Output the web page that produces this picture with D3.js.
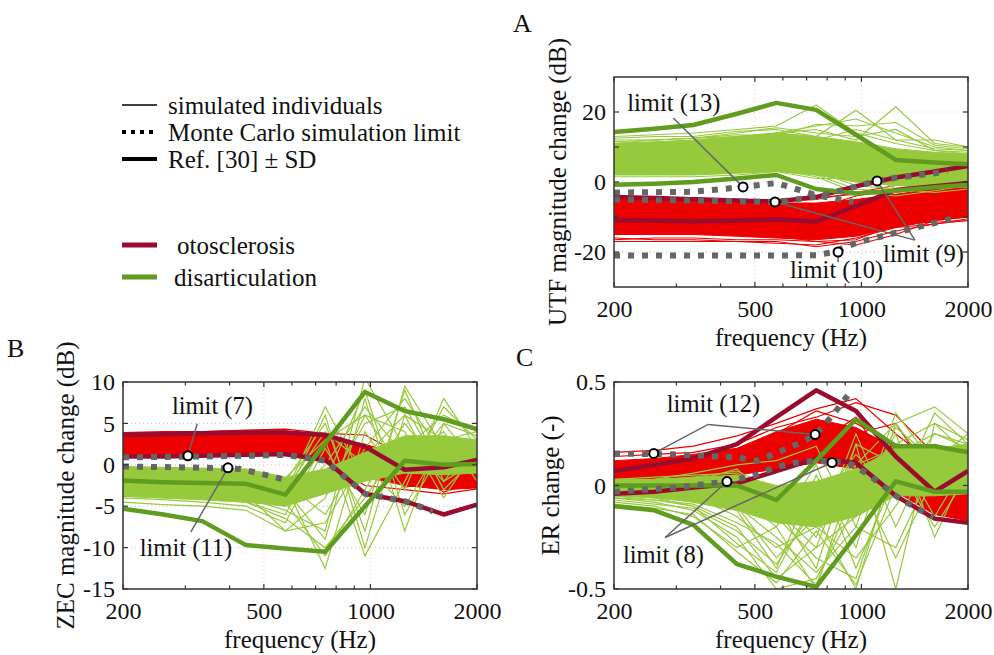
<!DOCTYPE html>
<html>
<head>
<meta charset="utf-8">
<script src="https://cdn.jsdelivr.net/npm/d3@7/dist/d3.min.js"></script>
<style>
  body { margin: 0; background: #fff; }
  svg text { font-family: "Liberation Serif", "Times New Roman", serif; fill: #111; }
</style>
</head>
<body>
<svg id="fig" width="994" height="655"></svg>
<script>
// frequency grid of the simulated curves and reference curves (Hz)
const freqs = [200, 260, 335, 445, 575, 745, 965, 1250, 1610, 2000];
const xTickVals = [200, 500, 1000, 2000];
const xMinorVals = [300, 400, 600, 700, 800, 900];

// ---------- A: UTF magnitude change (dB) ----------
const utfOtoBandHi = [-5, -5, -5.5, -5.5, -6, -6, -5, -3.5, -2, -1.5];
const utfOtoBandLo = [-15, -15, -15, -15.5, -16, -16.5, -15.5, -13, -11, -10];
const utfOtoSims = [
    [-16, -16.5, -16.5, -17, -17, -18.5, -17, -14, -12, -11],
    [-17, -17, -17, -17, -17.5, -18, -16, -13, -12, -10.5],
    [-16.5, -16, -16, -16.5, -16.5, -17, -18, -15, -11, -10],
    [-4.5, -4.5, -5, -5, -5.5, -5, -3, -1, 0, 0],
    [-4, -4.5, -4.5, -5, -5, -4.5, -3.5, -2, -1, -0.5],
    [-6, -6, -6.5, -7, -7, -7.5, -4, -2, -1, -1],
    [-14, -14, -14.5, -15, -15.5, -17, -16.5, -12, -11.5, -11],
    [-12, -12, -12, -13, -13, -14, -12, -9, -8, -7]
];
const utfDisBandHi = [11, 11.5, 12, 13, 14, 13, 11.5, 9.5, 8.5, 8];
const utfDisBandLo = [2, 2, 2, 2.5, 3, 2, 0, -1, -1.5, -1];
const utfDisSims = [
    [13, 13.5, 14, 15, 16, 22, 14, 11, 9, 8],
    [12.5, 13, 13, 14.5, 15, 13, 20.5, 12, 9.5, 9],
    [11, 12, 12.5, 13, 14, 15, 12, 21.5, 11, 10],
    [10, 10.5, 11, 12, 14, 16, 18, 14, 10, 9],
    [12, 12, 12.5, 13.5, 13, 16.5, 16, 17, 10.5, 9.5],
    [9, 9.5, 10, 11, 12, 12, 15, 12, 12, 10],
    [11.5, 12, 12.5, 14, 15.5, 14, 13, 15, 9, 8.5],
    [3, 3, 3, 3.5, 4, 2, -2, -3, -1, 0],
    [2.5, 2.5, 2.5, 3, 3.5, 1.5, -3, -4, -2.5, -1],
    [4, 4, 4.5, 5, 5, 3, -1, -2, -3, -2],
    [1.5, 1.5, 1.5, 2, 3, 1, 1, -3, -1.5, -1.5],
    [6, 6, 6.5, 7, 8, 9, 4, -2, 0, 1],
    [8, 8, 8.5, 9, 10, 8, 6, 4, 3, 3]
];
const utfRefOtoHi = [-4.3, -4.6, -4.9, -5.3, -5.6, -4.3, -1.2, 1.3, 3.0, 4.6];
const utfRefOtoLo = [-10.9, -11, -11.2, -11, -10.7, -11.3, -6.8, -2.3, -1.2, -0.3];
const utfRefDisHi = [14.3, 15.2, 16.3, 19.5, 22.6, 20.6, 13.5, 6.3, 5.6, 5.1];
const utfRefDisLo = [-0.8, -0.5, 0, 1, 2, -2, -3.3, -2.5, -1.5, -0.8];
const utfLim13F = [200, 335, 445, 575, 670, 745, 950];
const utfLim13V = [-3.0, -2.8, -1.6, -0.3, -2.3, -3.8, -5.7];
const utfLim9F = [200, 335, 445, 575, 745, 965, 1100, 1250, 1610, 1750];
const utfLim9V = [-5.0, -5.3, -5.5, -5.7, -4.2, -1.3, 0.3, 1.2, 2.5, 3.0];
const utfLim10F = [200, 335, 575, 745, 838, 900, 1000, 1250, 1430, 1800];
const utfLim10V = [-21, -21, -21, -20.9, -20, -18.5, -17, -14.5, -13, -10.5];

// ---------- B: ZEC magnitude change (dB) ----------
const zecOtoBandHi = [3.9, 3.9, 4.0, 4.1, 4.1, 3.4, 2.5, 1.0, 0.7, 0.8];
const zecOtoBandLo = [0.9, 0.9, 1.0, 1.1, 1.1, 0.3, -1.5, -2.5, -3.0, -2.8];
const zecOtoSims = [
    [3.9, 4, 4, 4.2, 4.3, 3.8, 3.6, 1, 0.5, 1],
    [1.2, 1.2, 1.3, 1.4, 1.4, 0.4, -2.5, -3, -3.5, -2.9],
    [2, 2.1, 2.2, 2.3, 2.4, 1.8, 0.5, -2, -1, -1.5],
    [3, 3, 3.1, 3.2, 3.3, 2.5, -1, 0, -3.3, -2],
    [2.5, 2.5, 2.6, 2.8, 2.8, 3.2, 1, -2.7, -2, -2.5]
];
const zecDisBandHi = [-0.2, -0.3, -0.4, -0.5, -1.5, -0.5, 1.5, 3.5, 3.5, 3];
const zecDisBandLo = [-3.8, -4, -4.2, -4.5, -5, -3.5, -2, -1, -1.2, -1];
const zecDisSims = [
    [-0.5, -0.6, -0.8, -1, -2, 5, -8, 9.5, 2, 3],
    [-1, -1.2, -1.3, -1.5, -2.5, -12.5, 4, -3, 8, 2],
    [-2, -2.2, -2.5, -3, -4, 6, -10, 6, -3, 1],
    [-3, -3.3, -3.5, -4, -5.5, -8, 10.5, 2, 6, 4],
    [-4, -4.2, -4.5, -5, -7, 2, -6, 9, -2, 3],
    [-1.5, -1.6, -1.8, -2, -3, -9, 8, -8, 5, 0],
    [-2.5, -2.8, -3, -3.5, -8, -4, 6, 4, -4, 2],
    [-3.5, -3.8, -4, -4.5, -6, 3, -11, -2, 7, 3],
    [-1.2, -1.3, -1.5, -1.8, -2.2, -6, 2, 8, 1, 1.5],
    [-0.8, -1, -1.2, -1.5, -3, 4, 0, -5, 3, -1],
    [-2.2, -2.5, -2.7, -3.2, -4.5, -11, -3, 5, -1, 2.5],
    [-3.2, -3.4, -3.6, -4, -5, 0, 7, 1, 4, -2],
    [-0.3, -0.5, -0.6, -0.8, -1.6, 3, 6, -1, 5, 3.5],
    [-3.8, -4, -4.2, -4.5, -6.5, -10, -4, 3, 1, 2],
    [-2.8, -3, -3.2, -3.8, -5, -2, 9, -6, 2, 1],
    [-1.8, -2, -2.2, -2.5, -3.5, 7, -2, 3, -2, 0.5],
    [-4.5, -4.8, -5, -5.5, -8, -7, 1, 6, 3, 4],
    [-0.6, -0.7, -0.9, -1.2, -2.8, -3, 5, 7, -1, 2.5]
];
const zecRefOtoHi = [3.6, 3.7, 3.8, 3.9, 3.9, 3.6, 2.2, -0.6, -0.3, 0.6];
const zecRefOtoLo = [1.0, 1.0, 1.1, 1.2, 1.3, 0.6, -3.5, -4.4, -6.0, -4.8];
const zecRefDisHi = [-1.9, -2.1, -2.2, -2.3, -3.6, 2.6, 8.8, 6.5, 5.5, 4.3];
const zecRefDisLo = [-5.3, -6.0, -6.8, -9.7, -10.1, -10.5, -5, 0.5, 0, 0.1];
const zecLim7F = [200, 335, 445, 575, 745, 965, 1250, 1500];
const zecLim7V = [0.9, 1.0, 1.1, 1.2, 0.5, -3.5, -4.4, -5.6];
const zecLim11F = [200, 335, 430, 575];
const zecLim11V = [-0.2, -0.35, -0.5, -1.8];

// ---------- C: ER change (-) ----------
const erOtoBandHi = [0.12, 0.13, 0.15, 0.18, 0.26, 0.32, 0.28, 0.18, 0.05, 0.08];
const erOtoBandLo = [0.03, 0.03, 0.04, 0.05, 0.08, 0.11, 0.08, -0.03, -0.14, -0.17];
const erOtoSims = [
    [0.16, 0.17, 0.19, 0.24, 0.3, 0.37, 0.42, 0.25, 0.1, 0.12],
    [0.14, 0.15, 0.16, 0.2, 0.28, 0.33, 0.4, 0.34, 0.15, 0.2],
    [0.1, 0.11, 0.13, 0.17, 0.25, 0.36, 0.3, 0.2, 0.05, 0.1],
    [0.05, 0.06, 0.08, 0.12, 0.2, 0.3, 0.25, 0.3, 0.02, 0.05],
    [0.04, 0.05, 0.06, 0.13, 0.12, 0.26, 0.2, 0.1, -0.12, -0.05],
    [0.08, 0.08, 0.1, 0.14, 0.22, 0.2, 0.33, 0.05, -0.08, -0.1]
];
const erDisBandHi = [0.03, 0.03, 0.04, 0.05, 0.0, 0.02, 0.08, 0.18, 0.18, 0.2];
const erDisBandLo = [-0.05, -0.06, -0.08, -0.12, -0.18, -0.2, -0.15, -0.05, -0.05, -0.04];
const erDisSims = [
    [0.02, 0.03, 0.06, 0.1, 0.12, 0.19, -0.2, 0.35, 0.1, 0.2],
    [0.0, -0.01, -0.02, -0.05, -0.2, -0.5, 0.1, 0.3, 0.38, 0.25],
    [-0.02, -0.04, -0.06, -0.1, -0.35, -0.15, -0.5, 0.15, 0.25, 0.2],
    [-0.04, -0.06, -0.1, -0.2, -0.45, -0.3, 0.2, -0.5, 0.3, 0.15],
    [-0.06, -0.08, -0.12, -0.25, -0.5, -0.45, -0.1, 0.25, -0.25, 0.1],
    [-0.08, -0.1, -0.15, -0.3, -0.2, 0.1, -0.4, 0.05, 0.15, 0.0],
    [0.01, 0.0, 0.02, 0.08, -0.1, -0.4, 0.2, 0.1, -0.2, 0.05],
    [-0.03, -0.05, -0.08, -0.12, -0.4, 0.05, -0.3, 0.3, 0.05, 0.18],
    [-0.05, -0.07, -0.09, -0.18, -0.28, -0.48, 0.0, 0.2, 0.3, 0.22],
    [0.03, 0.04, 0.05, 0.06, -0.05, -0.25, 0.25, -0.2, 0.2, 0.1],
    [-0.01, -0.02, -0.04, -0.08, -0.15, -0.35, -0.45, 0.12, 0.0, 0.12],
    [-0.07, -0.09, -0.11, -0.22, -0.38, -0.1, 0.15, -0.05, 0.35, 0.2],
    [-0.02, -0.03, -0.05, -0.15, -0.3, -0.2, -0.35, -0.1, 0.2, 0.15],
    [0.0, 0.01, 0.03, 0.05, -0.12, -0.3, -0.15, 0.28, 0.12, 0.25],
    [-0.04, -0.05, -0.07, -0.1, -0.25, -0.42, -0.2, -0.3, 0.1, 0.05],
    [-0.06, -0.07, -0.1, -0.28, -0.42, -0.05, 0.1, 0.18, -0.15, 0.12],
    [-0.09, -0.11, -0.14, -0.32, -0.47, -0.22, -0.48, 0.0, 0.25, 0.18],
    [0.02, 0.02, 0.04, 0.07, -0.02, -0.18, 0.05, -0.35, 0.05, 0.1]
];
const erRefOtoHi = [0.07, 0.10, 0.13, 0.20, 0.33, 0.46, 0.36, 0.14, -0.03, 0.07];
const erRefOtoLo = [-0.04, -0.03, -0.01, 0.01, 0.07, 0.13, 0.11, -0.05, -0.16, -0.18];
const erRefDisHi = [0.0, 0.0, 0.0, 0.0, -0.07, 0.12, 0.32, 0.19, 0.19, 0.16];
const erRefDisLo = [-0.1, -0.12, -0.19, -0.38, -0.44, -0.49, -0.24, 0.02, -0.03, -0.03];
const erLim12F = [200, 300, 445, 510, 600, 680, 745, 830, 930];
const erLim12V = [0.155, 0.15, 0.135, 0.12, 0.17, 0.21, 0.25, 0.34, 0.45];
const erLim8F = [200, 300, 420, 500, 575, 650, 745, 830, 920, 1030, 1150, 1250, 1430, 1600];
const erLim8V = [-0.03, -0.01, 0.02, 0.05, 0.09, 0.11, 0.12, 0.115, 0.11, 0.06, 0.0, -0.05, -0.11, -0.15];

// annotations: label text, label anchor, pointer lines, circles (freq, value)
const utfNotes = [
    { text: 'limit (13)', at: [218, 20.3], lines: [[[294, 18.3], [463, -1.4]]], dots: [[463, -1.4]] },
    { text: 'limit (9)', at: [1150, -22.9], lines: [[[1416, -16.6], [570, -5.7]], [[1416, -16.6], [1107, 0.3]]], dots: [[570, -5.7], [1107, 0.3]] },
    { text: 'limit (10)', at: [628, -27.4], lines: [[[859, -22.9], [859, -20]]], dots: [[859, -20]] }
];
const zecNotes = [
    { text: 'limit (7)', at: [275, 6.16], lines: [[[324, 4.95], [305, 1.09]]], dots: [[305, 1.09]] },
    { text: 'limit (11)', at: [223, -11.0], lines: [[[311, -8.09], [396, -0.36]]], dots: [[396, -0.36]] }
];
const erNotes = [
    { text: 'limit (12)', at: [282, 0.353], lines: [[[259, 0.155], [369, 0.295], [740, 0.246]]], dots: [[259, 0.155], [740, 0.246]] },
    { text: 'limit (8)', at: [212, -0.372], lines: [[[279, -0.251], [417, 0.019]], [[279, -0.251], [826, 0.111]]], dots: [[417, 0.019], [826, 0.111]] }
];

const colOtoSim = '#ec0000', colDisSim = '#97c93d';
const colOtoRef = '#990c2e', colDisRef = '#5f9c1f';
const colLim = '#666666';

let svg = d3.select('#fig');

let panels = [
    { name: 'A', left: 614, right: 968, top: 77, bottom: 287, yDomain: [-30, 30],
      yTicks: [-20, 0, 20], yMinor: [-10, 10], ylabel: 'UTF magnitude change (dB)', ylabX: 557,
      letter: [513, 32],
      oto: { hi: utfOtoBandHi, lo: utfOtoBandLo, sims: utfOtoSims, refHi: utfRefOtoHi, refLo: utfRefOtoLo },
      dis: { hi: utfDisBandHi, lo: utfDisBandLo, sims: utfDisSims, refHi: utfRefDisHi, refLo: utfRefDisLo },
      limits: [[utfLim13F, utfLim13V], [utfLim9F, utfLim9V], [utfLim10F, utfLim10V]],
      notes: utfNotes },
    { name: 'B', left: 123, right: 477, top: 382, bottom: 589, yDomain: [-15, 10],
      yTicks: [-15, -10, -5, 0, 5, 10], yMinor: [], ylabel: 'ZEC magnitude change (dB)', ylabX: 65,
      letter: [7, 357],
      oto: { hi: zecOtoBandHi, lo: zecOtoBandLo, sims: zecOtoSims, refHi: zecRefOtoHi, refLo: zecRefOtoLo },
      dis: { hi: zecDisBandHi, lo: zecDisBandLo, sims: zecDisSims, refHi: zecRefDisHi, refLo: zecRefDisLo },
      limits: [[zecLim7F, zecLim7V], [zecLim11F, zecLim11V]],
      notes: zecNotes },
    { name: 'C', left: 614, right: 968, top: 382, bottom: 589, yDomain: [-0.5, 0.5],
      yTicks: [-0.5, 0, 0.5], yMinor: [], ylabel: 'ER change (-)', ylabX: 550,
      letter: [516, 366],
      oto: { hi: erOtoBandHi, lo: erOtoBandLo, sims: erOtoSims, refHi: erRefOtoHi, refLo: erRefOtoLo },
      dis: { hi: erDisBandHi, lo: erDisBandLo, sims: erDisSims, refHi: erRefDisHi, refLo: erRefDisLo },
      limits: [[erLim12F, erLim12V], [erLim8F, erLim8V]],
      notes: erNotes }
];

function zipF(f, v) {
    return f.map(function (d, i) { return [d, v[i]]; });
}

function drawPanel(p) {
    let x = d3.scaleLog().domain([200, 2000]).range([p.left, p.right]);
    let y = d3.scaleLinear().domain(p.yDomain).range([p.bottom, p.top]);
    let line = d3.line().x(function (d) { return x(d[0]); }).y(function (d) { return y(d[1]); });
    let band = d3.area()
        .x(function (d) { return x(d[0]); })
        .y0(function (d) { return y(d[1]); })
        .y1(function (d) { return y(d[2]); });

    let clipId = 'clip' + p.name;
    svg.append('clipPath').attr('id', clipId).append('rect')
        .attr('x', p.left).attr('y', p.top)
        .attr('width', p.right - p.left).attr('height', p.bottom - p.top);

    let g = svg.append('g').attr('class', 'panel-' + p.name);

    //grid
    let grid = g.append('g').attr('stroke', '#c8c8c8').attr('stroke-width', 1).attr('stroke-dasharray', '1,3');
    grid.selectAll('.gx').data([500, 1000]).enter().append('line')
        .attr('x1', function (d) { return x(d); }).attr('x2', function (d) { return x(d); })
        .attr('y1', p.top).attr('y2', p.bottom);
    grid.selectAll('.gy').data(p.yTicks).enter().append('line')
        .attr('x1', p.left).attr('x2', p.right)
        .attr('y1', function (d) { return y(d); }).attr('y2', function (d) { return y(d); });

    let plot = g.append('g').attr('clip-path', 'url(#' + clipId + ')');

    //simulated individuals: dense core + single curves
    [[p.oto, colOtoSim], [p.dis, colDisSim]].forEach(function (grp) {
        let s = grp[0], col = grp[1];
        plot.append('path')
            .datum(freqs.map(function (f, i) { return [f, s.lo[i], s.hi[i]]; }))
            .attr('d', band).attr('fill', col).attr('stroke', col).attr('stroke-width', 1);
        plot.selectAll(null).data(s.sims).enter().append('path')
            .attr('d', function (d) { return line(zipF(freqs, d)); })
            .attr('fill', 'none').attr('stroke', col).attr('stroke-width', 1.2);
    });

    //Ref. [30] +- SD
    [[p.oto, colOtoRef], [p.dis, colDisRef]].forEach(function (grp) {
        [grp[0].refHi, grp[0].refLo].forEach(function (r) {
            plot.append('path').attr('d', line(zipF(freqs, r)))
                .attr('fill', 'none').attr('stroke', grp[1]).attr('stroke-width', 4.5)
                .attr('stroke-linejoin', 'round');
        });
    });

    //Monte Carlo limits
    p.limits.forEach(function (l) {
        plot.append('path').attr('d', line(zipF(l[0], l[1])))
            .attr('fill', 'none').attr('stroke', colLim).attr('stroke-width', 6)
            .attr('stroke-dasharray', '6,8');
    });

    //box + ticks (inward, matlab style)
    g.append('rect').attr('x', p.left).attr('y', p.top)
        .attr('width', p.right - p.left).attr('height', p.bottom - p.top)
        .attr('fill', 'none').attr('stroke', '#333').attr('stroke-width', 1.5);

    let tk = g.append('g').attr('stroke', '#333').attr('stroke-width', 1.2);
    let xAll = xTickVals.concat(xMinorVals);
    xAll.forEach(function (f) {
        let len = xMinorVals.indexOf(f) >= 0 ? 3.5 : 5;
        tk.append('line').attr('x1', x(f)).attr('x2', x(f)).attr('y1', p.bottom).attr('y2', p.bottom - len);
        tk.append('line').attr('x1', x(f)).attr('x2', x(f)).attr('y1', p.top).attr('y2', p.top + len);
    });
    p.yTicks.concat(p.yMinor).forEach(function (v) {
        tk.append('line').attr('x1', p.left).attr('x2', p.left + 5).attr('y1', y(v)).attr('y2', y(v));
        tk.append('line').attr('x1', p.right).attr('x2', p.right - 5).attr('y1', y(v)).attr('y2', y(v));
    });

    let xAxis = d3.axisBottom(x).tickValues(xTickVals).tickSize(0).tickPadding(13)
        .tickFormat(d3.format('d'));
    let ax = g.append('g').attr('transform', 'translate(0,' + p.bottom + ')').call(xAxis);
    let yAxis = d3.axisLeft(y).tickValues(p.yTicks).tickSize(0).tickPadding(8)
        .tickFormat(function (d) { return String(d).replace('−', '-'); });
    let ay = g.append('g').attr('transform', 'translate(' + p.left + ',0)').call(yAxis);
    [ax, ay].forEach(function (a) {
        a.select('.domain').remove();
        a.selectAll('text').attr('font-size', 24).attr('fill', '#111')
            .style('font-family', '"Liberation Serif", serif');
    });

    //axis labels
    g.append('text').attr('x', (p.left + p.right) / 2).attr('y', p.bottom + 59)
        .attr('text-anchor', 'middle').attr('font-size', 25).text('frequency (Hz)');
    g.append('text')
        .attr('transform', 'translate(' + p.ylabX + ',' + ((p.top + p.bottom) / 2) + ') rotate(-90)')
        .attr('text-anchor', 'middle').attr('dy', '0.35em').attr('font-size', 25).text(p.ylabel);
    g.append('text').attr('x', p.letter[0]).attr('y', p.letter[1])
        .attr('font-size', 26).text(p.name);

    //annotations
    p.notes.forEach(function (n) {
        n.lines.forEach(function (pl) {
            g.append('path').attr('d', line(pl)).attr('fill', 'none')
                .attr('stroke', '#666').attr('stroke-width', 1.5);
        });
        n.dots.forEach(function (d) {
            g.append('circle').attr('cx', x(d[0])).attr('cy', y(d[1])).attr('r', 4.5)
                .attr('fill', '#fff').attr('stroke', '#000').attr('stroke-width', 2);
        });
        g.append('text').attr('x', x(n.at[0])).attr('y', y(n.at[1]))
            .attr('font-size', 24.5).text(n.text);
    });
}

panels.forEach(drawPanel);

//legend
let legendItems = [
    { label: 'simulated individuals', y: 105, tx: 168, color: '#000', w: 1.5, dash: null },
    { label: 'Monte Carlo simulation limit', y: 132, tx: 168, color: '#000', w: 4, dash: '4,5' },
    { label: 'Ref. [30] \u00b1 SD', y: 159, tx: 168, color: '#000', w: 4, dash: null },
    { label: 'otosclerosis', y: 245, tx: 177, color: colOtoRef, w: 5, dash: null },
    { label: 'disarticulation', y: 277, tx: 174, color: colDisRef, w: 5, dash: null }
];
let legend = svg.append('g').attr('class', 'legend');
legendItems.forEach(function (it) {
    legend.append('line').attr('x1', 122).attr('x2', 157).attr('y1', it.y).attr('y2', it.y)
        .attr('stroke', it.color).attr('stroke-width', it.w)
        .attr('stroke-dasharray', it.dash);
    legend.append('text').attr('x', it.tx).attr('y', it.y + 9).attr('font-size', 25).text(it.label);
});
</script>
</body>
</html>
